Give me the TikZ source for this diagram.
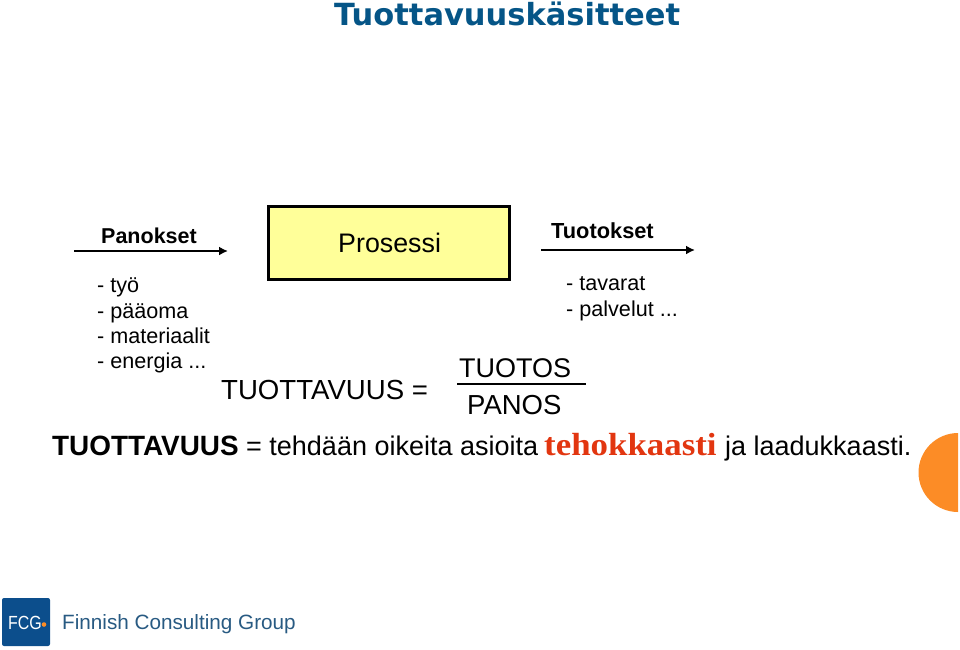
\documentclass[tikz,border=0pt]{standalone}
\usepackage{fontspec}
\setmainfont{Liberation Sans}
\newfontfamily\titlefont{DejaVu Sans}
\newfontfamily\serifbold[BoldFont={Liberation Serif Bold},BoldFeatures={FakeStretch=1.09}]{Liberation Serif}
\newfontfamily\logofont[FakeStretch=0.84]{Liberation Sans}
\usepackage{xcolor}
\usetikzlibrary{arrows.meta,positioning}
\definecolor{titleblue}{RGB}{5,85,135}
\definecolor{procyellow}{RGB}{255,255,153}
\definecolor{effred}{RGB}{226,54,16}
\definecolor{fcgorange}{RGB}{252,140,38}
\definecolor{fcgblue}{RGB}{12,78,140}
\definecolor{fcgtext}{RGB}{40,90,130}
\tikzset{
    txt/.style={inner sep=0pt, anchor=base west, font=\fontsize{#1}{#1}\selectfont},
    flow/.style={-{Latex[length=9pt,width=9pt]}, line width=2pt},
}

\begin{document}
\begin{tikzpicture}[x=1pt,y=-1pt]
    \useasboundingbox (0,0) rectangle (960,649);
    \node[txt=30.5, text=titleblue] (title) at (334,25) {\titlefont\bfseries Tuottavuuskäsitteet};
    % process and flows
    \node[draw=black, line width=3pt, fill=procyellow, minimum width=241pt, minimum height=73pt, inner sep=0pt] (prosessi) at (389,242.5) {};
    \node[txt=26.8] (prosessilabel) at (338,252) {Prosessi};
    \node[txt=21.5] (panokset) at (101,243) {\bfseries Panokset};
    \node[txt=21.8] (tuotokset) at (551,238) {\bfseries Tuotokset};
    \coordinate (inA) at (74,251);
    \coordinate (inB) at (228,251);
    \coordinate (outA) at (541,250);
    \coordinate (outB) at (695,250);
    \draw[flow] (inA) -- (inB);
    \draw[flow] (outA) -- (outB);
    % lists
    \node[txt=21.6] (tyo) at (97,292) {- työ};
    \node[txt=21.6] (paaoma) at (97,318) {- pääoma};
    \node[txt=21.6] (materiaalit) at (97,343) {- materiaalit};
    \node[txt=21.6] (energia) at (97,368) {- energia ...};
    \node[txt=21.6] (tavarat) at (566,290) {- tavarat};
    \node[txt=21.6] (palvelut) at (566,316) {- palvelut ...};
    % formula
    \node[txt=27.6] (tuottavuus) at (221,399) {TUOTTAVUUS =};
    \node[txt=27] (tuotos) at (459,377) {TUOTOS};
    \node[txt=27.5] (panos) at (467,414) {PANOS};
    \coordinate (fracA) at (457,383.5);
    \coordinate (fracB) at (586,383.5);
    \draw[line width=2pt] (fracA) -- (fracB);
    % sentence
    \node[txt=27] (lause) at (52,455) {{\fontsize{27.9}{27.9}\selectfont\bfseries TUOTTAVUUS} = tehdään oikeita asioita};
    \node[txt=32, text=effred] (tehokkaasti) at (544,455) {\serifbold\bfseries tehokkaasti};
    \node[txt=27] (loppu) at (725,455) {ja laadukkaasti.};
    % orange half disc at the edge
    \fill[fcgorange] (958,512) arc[start angle=90, end angle=270, radius=39.5] -- cycle;
    % logo
    \node[fill=fcgblue, rounded corners=2pt, minimum width=48pt, minimum height=48pt, inner sep=0pt] (logo) at (26,622) {};
    \node[txt=19, text=white] (fcg) at (8,629) {\logofont FCG};
    \fill[fcgorange] (44,624.5) circle (2.3);
    \node[txt=20.7, text=fcgtext] (finnish) at (62,629) {Finnish Consulting Group};
\end{tikzpicture}
\end{document}
